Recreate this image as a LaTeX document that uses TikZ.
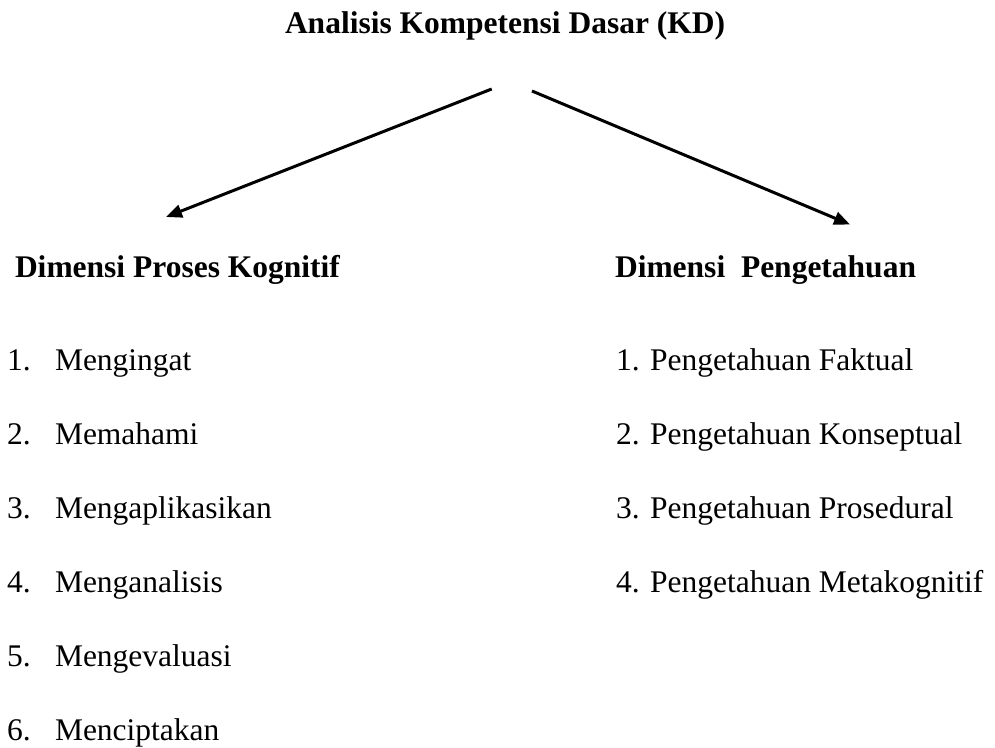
\documentclass[tikz,border=0pt]{standalone}
\usepackage{fontspec}
\setmainfont{Liberation Serif}
\usetikzlibrary{arrows.meta}
\tikzset{
  txt/.style={inner sep=0pt, outer sep=0pt, anchor=base west, font=\fontsize{31.5}{36}\selectfont},
  hdr/.style={txt, font=\fontsize{31.5}{36}\selectfont\bfseries},
  arr/.style={line width=3pt, -{Triangle[length=16pt,width=13pt]}}
}
\begin{document}
\begin{tikzpicture}[x=1pt,y=-1pt]
\useasboundingbox (0,0) rectangle (995,747);
\node[hdr] (title) at (285,33) {Analisis Kompetensi Dasar (KD)};
\node[hdr] (hl) at (15,277) {Dimensi Proses Kognitif};
\node[hdr] (hr) at (615,277) {Dimensi\ \ Pengetahuan};
\coordinate (s1) at (491.7,89);
\coordinate (t1) at (166,217);
\coordinate (s2) at (532,91);
\coordinate (t2) at (850,224.5);
\draw[arr] (s1) -- (t1);
\draw[arr] (s2) -- (t2);
% left list
\foreach \i/\t in {1/Mengingat,2/Memahami,3/Mengaplikasikan,4/Menganalisis,5/Mengevaluasi,6/Menciptakan}{
  \node[txt] (ln\i) at (7,{370+74*(\i-1)}) {\i.};
  \node[txt] (lt\i) at (55,{370+74*(\i-1)}) {\t};
}
% right list
\foreach \i/\t in {1/Faktual,2/Konseptual,3/Prosedural,4/Metakognitif}{
  \node[txt] (r\i) at (616,{370+74*(\i-1)}) {\i. Pengetahuan \t};
}
\end{tikzpicture}
\end{document}
